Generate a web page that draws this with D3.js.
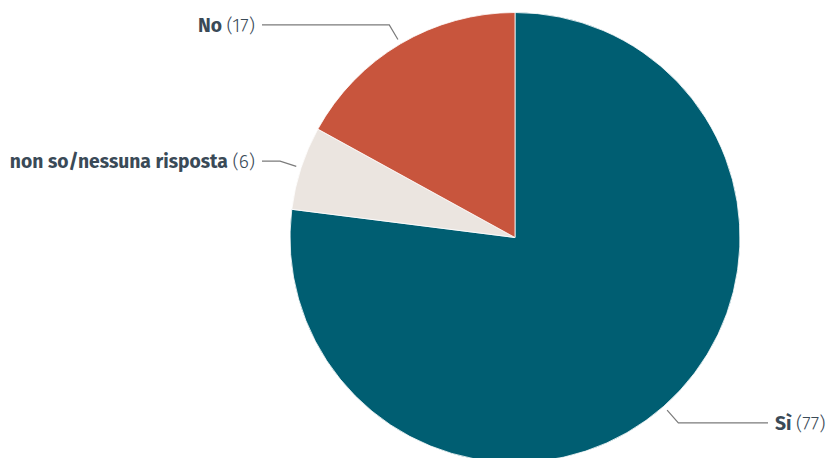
<!DOCTYPE html>
<html>
<head>
<meta charset="utf-8">
<script src="https://cdn.jsdelivr.net/npm/d3@7"></script>
<style>
  html, body { margin: 0; padding: 0; background: #ffffff; }
  svg { display: block; }
  text { font-family: "Fira Sans", "Open Sans", "Noto Sans", sans-serif; fill: #3a4a57; }
</style>
</head>
<body>
<svg id="chart" width="828" height="458"></svg>
<script>
// Survey answers, in drawing order (clockwise from 12 o'clock)
const categories = ["Sì", "non so/nessuna risposta", "No"];
const counts = [77, 6, 17];
const colors = ["#005e72", "#ebe5e0", "#c8553d"];

const data = categories.map((c, i) => ({ label: c, value: counts[i], color: colors[i] }));

const width = 828, height = 458;
const cx = 515, cy = 237.5, radius = 225;

const svg = d3.select("#chart");
const g = svg.append("g").attr("transform", `translate(${cx},${cy})`);

const pie = d3.pie().value(d => d.value).sort(null);
const arcs = pie(data);

const arc = d3.arc().innerRadius(0).outerRadius(radius);
const lineStart = d3.arc().innerRadius(radius + 5).outerRadius(radius + 5);
const elbow = d3.arc().innerRadius(radius + 22).outerRadius(radius + 22);

g.selectAll("path.slice")
  .data(arcs)
  .join("path")
  .attr("class", "slice")
  .attr("d", arc)
  .attr("fill", d => d.data.color)
  .attr("stroke", "#ffffff")
  .attr("stroke-width", 0.8);

const endX = { right: 768 - cx, left: 262 - cx };

const labels = g.selectAll("g.label")
  .data(arcs)
  .join("g")
  .attr("class", "label");

labels.append("polyline")
  .attr("fill", "none")
  .attr("stroke", "#7b7b7b")
  .attr("stroke-width", 1.2)
  .attr("points", d => {
    const a = lineStart.centroid(d);
    const b = elbow.centroid(d);
    const mid = (d.startAngle + d.endAngle) / 2;
    const right = mid < Math.PI;
    const c = [right ? endX.right : endX.left, b[1]];
    return [a, b, c].map(p => p.join(",")).join(" ");
  });

const txt = labels.append("text")
  .attr("dy", "0.35em")
  .attr("font-size", 19.3)
  .attr("text-anchor", d => ((d.startAngle + d.endAngle) / 2 < Math.PI) ? "start" : "end")
  .attr("x", d => ((d.startAngle + d.endAngle) / 2 < Math.PI) ? endX.right + 7 : endX.left - 7)
  .attr("y", d => elbow.centroid(d)[1]);

txt.append("tspan").attr("font-weight", 700).text(d => d.data.label + " ");
txt.append("tspan").attr("font-weight", 300).text(d => `(${d.data.value})`);
</script>
</body>
</html>
